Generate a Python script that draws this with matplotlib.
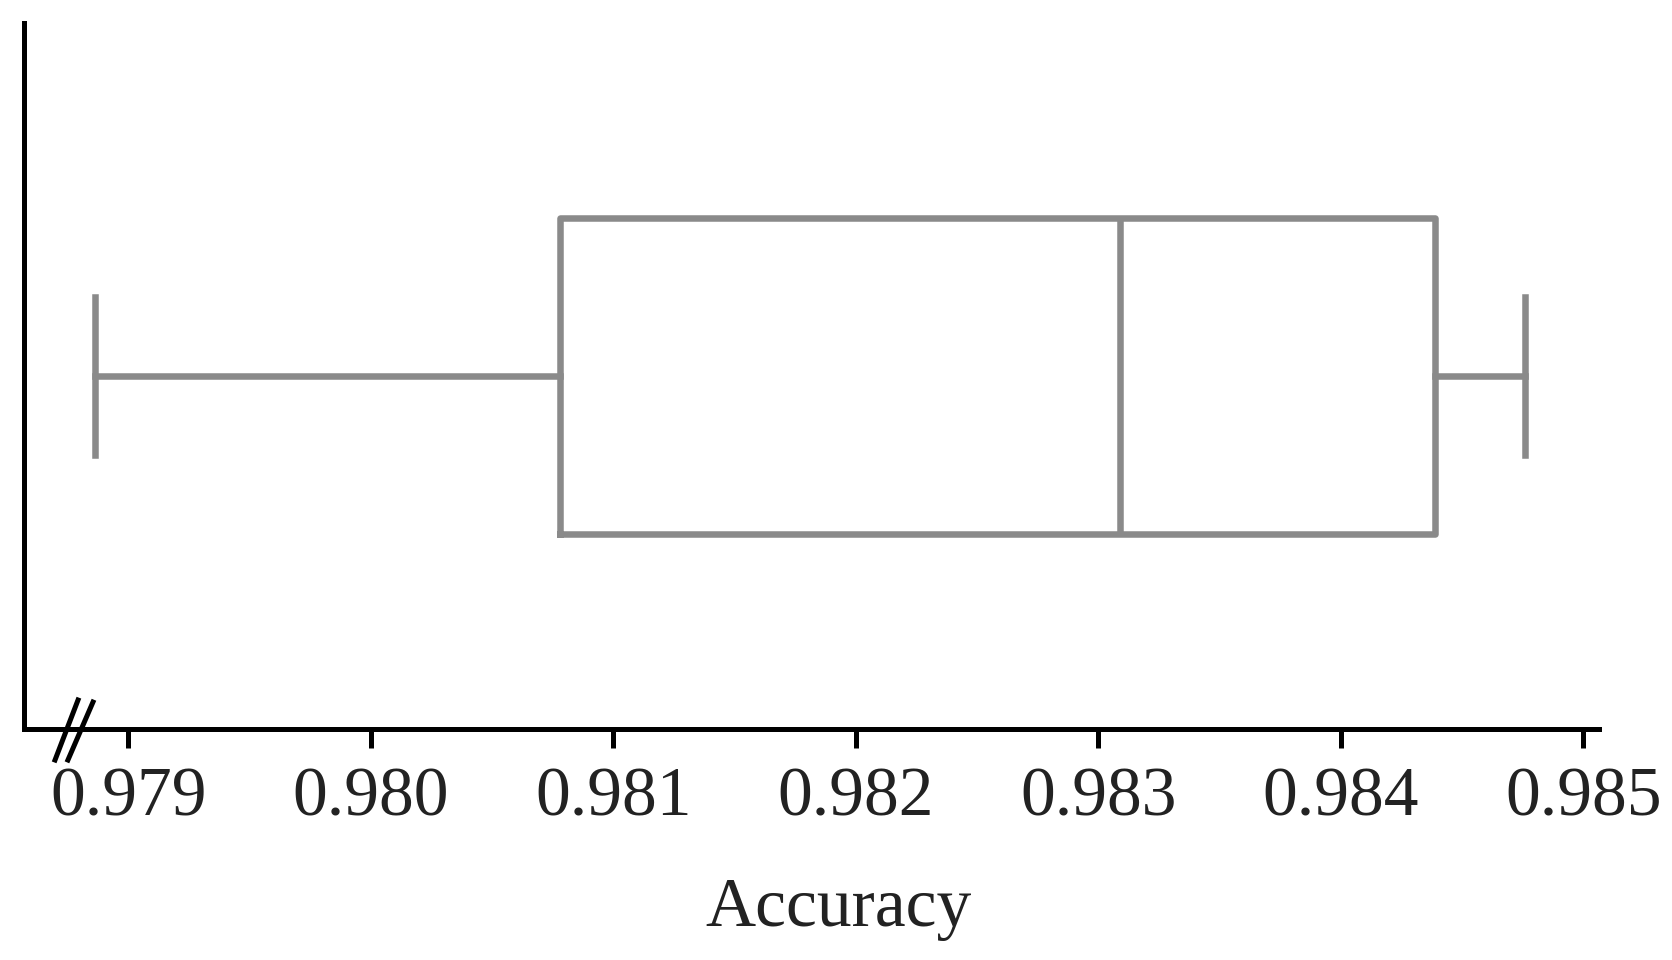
import matplotlib.pyplot as plt

plt.rcParams["font.family"] = ["Liberation Serif", "DejaVu Serif"]

# box statistics
whisker_low = 0.978862
q1 = 0.980780
median = 0.983088
q3 = 0.984388
whisker_high = 0.984758

tick_values = [0.979, 0.980, 0.981, 0.982, 0.983, 0.984, 0.985]
tick_labels = ["0.979", "0.980", "0.981", "0.982", "0.983", "0.984", "0.985"]

gray = "#8a8a8a"
text_col = "#222222"
lw = 4.7

fig = plt.figure(figsize=(16.72, 9.6), dpi=100)
ax = fig.add_axes([0.01435, 0.2406, 0.9420, 0.7354])

stats = [{
    "whislo": whisker_low,
    "q1": q1,
    "med": median,
    "q3": q3,
    "whishi": whisker_high,
    "fliers": [],
}]
ax.bxp(
    stats,
    positions=[0],
    widths=0.8,
    capwidths=0.40,
    vert=False,
    showfliers=False,
    boxprops=dict(color=gray, linewidth=lw),
    medianprops=dict(color=gray, linewidth=lw),
    whiskerprops=dict(color=gray, linewidth=lw),
    capprops=dict(color=gray, linewidth=lw),
)

ax.set_xlim(0.97857, 0.985065)
ax.set_ylim(-0.894, 0.894)

ax.spines["top"].set_visible(False)
ax.spines["right"].set_visible(False)
ax.spines["left"].set_linewidth(3.6)
ax.spines["bottom"].set_linewidth(3.6)

ax.set_yticks([])
ax.set_xticks(tick_values)
ax.set_xticklabels(tick_labels)
ax.tick_params(axis="x", length=13.7, width=3.6, pad=13.7, labelsize=50, labelcolor=text_col)

ax.set_xlabel("Accuracy", fontsize=50, color=text_col)
ax.xaxis.set_label_coords(0.517, -0.211)

# axis break marks
for x0, x1, y1 in [(0.0197, 0.0343, 0.0411), (0.0279, 0.0438, 0.0382)]:
    ax.plot([x0, x1], [-0.0439, y1], transform=ax.transAxes, color="black",
            linewidth=3.6, clip_on=False)

fig.savefig("out.png", dpi=100)
